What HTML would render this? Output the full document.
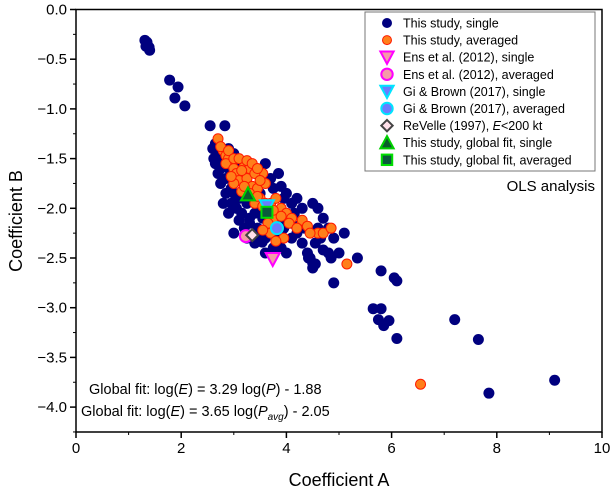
<!DOCTYPE html>
<html><head><meta charset="utf-8"><style>
body{margin:0;background:#fff;}
svg{display:block;font-family:"Liberation Sans",Arial,sans-serif;}
</style></head><body>
<svg id="chart" width="612" height="495" viewBox="0 0 612 495"></svg>
<script>
const singleA=[1.31,1.35,1.39,1.33,1.40,1.78,1.94,1.88,2.07,2.55,2.83,
2.65,2.70,2.65,2.75,2.80,2.90,3.00,2.85,2.95,3.05,3.10,2.80,2.90,3.15,3.30,3.20,3.50,3.45,3.60,3.40,3.54,
3.60,3.70,3.90,4.00,4.10,4.30,4.50,4.60,4.70,4.80,4.90,4.55,4.30,4.10,4.00,3.90,4.40,4.45,4.50,4.42,4.50,4.55,
4.90,5.00,5.35,5.80,6.05,6.10,5.65,5.80,5.75,5.85,5.95,6.10,7.20,7.65,7.85,9.10,
3.30,3.50,3.70,3.90,4.10,3.00,3.25,3.75,3.60,5.10,4.85,
2.60,2.62,2.70,2.75,2.85,2.95,3.05,3.10,3.25,3.40,3.55,3.65,3.80,3.95,4.20,4.35,4.60,4.65,3.85,3.75,3.95,4.20,4.15,3.10,3.20,2.90,3.00,3.30,3.45,4.70,4.80];
const singleB=[-0.31,-0.33,-0.38,-0.37,-0.41,-0.71,-0.78,-0.89,-0.97,-1.17,-1.17,
-1.35,-1.45,-1.55,-1.60,-1.50,-1.40,-1.45,-1.70,-1.80,-1.65,-1.90,-1.95,-2.05,-2.05,-2.10,-2.20,-2.00,-2.20,-2.30,-2.35,-2.34,
-1.55,-1.70,-1.78,-1.85,-1.95,-2.00,-1.95,-2.00,-2.10,-2.20,-2.30,-2.35,-2.35,-2.30,-2.45,-2.40,-2.45,-2.50,-2.55,-2.50,-2.60,-2.56,
-2.75,-2.45,-2.50,-2.63,-2.70,-2.73,-3.01,-3.01,-3.12,-3.18,-3.13,-3.31,-3.12,-3.32,-3.86,-3.73,
-1.80,-1.85,-2.10,-2.15,-2.15,-2.25,-2.30,-2.40,-2.45,-2.25,-2.50,
-1.40,-1.50,-1.65,-1.75,-1.85,-1.95,-2.00,-2.12,-1.95,-2.05,-2.10,-2.20,-2.25,-2.20,-2.25,-2.20,-2.20,-2.30,-1.65,-1.80,-1.90,-1.90,-2.05,-1.55,-1.70,-1.60,-1.85,-2.15,-2.30,-2.42,-2.45];
const avgA=[2.70,2.80,2.85,2.90,2.95,2.85,3.00,3.05,3.10,3.20,3.30,3.25,3.35,3.45,3.55,3.50,3.60,3.40,3.70,3.80,3.90,4.00,4.10,4.30,4.40,3.75,3.85,3.70,3.95,4.60,4.70,4.85,3.80,3.60,3.15,3.00,3.40,5.15,6.55,
2.75,2.90,3.00,3.10,3.15,3.25,3.35,3.45,3.50,3.30,3.45,3.55,3.75,3.90,4.05,3.65,3.55,4.20,4.45,3.20,2.95];
const avgB=[-1.30,-1.42,-1.47,-1.50,-1.55,-1.55,-1.60,-1.65,-1.72,-1.58,-1.60,-1.70,-1.78,-1.80,-1.65,-1.90,-1.95,-1.95,-1.95,-1.90,-2.00,-2.05,-2.10,-2.12,-2.18,-2.10,-2.20,-2.25,-2.30,-2.25,-2.25,-2.20,-2.33,-1.75,-1.83,-1.75,-1.65,-2.56,-3.77,
-1.38,-1.42,-1.50,-1.50,-1.62,-1.52,-1.55,-1.60,-1.72,-1.85,-1.88,-1.98,-2.02,-2.08,-2.15,-2.15,-2.22,-2.20,-2.25,-1.78,-1.68];
const specialNames=["ens-single","ens-averaged","gi-single","gi-averaged","revelle","global-fit-single","global-fit-averaged"];
const specialA=[3.74,3.23,3.63,3.82,3.35,3.27,3.63];
const specialB=[-2.51,-2.28,-1.98,-2.20,-2.27,-1.86,-2.04];
const xTicks=[0,2,4,6,8,10];
const yTicks=[0,-0.5,-1,-1.5,-2,-2.5,-3,-3.5,-4];
const yTickLabels=["0.0","−0.5","−1.0","−1.5","−2.0","−2.5","−3.0","−3.5","−4.0"];

const L=76,R=602,T=9.5,B=432;
const xS=a=>L+(a-0)/10*(R-L);
const yS=b=>T+(0-b)*99.4;
const svg=document.getElementById('chart');
const NS='http://www.w3.org/2000/svg';
function mk(tag,attrs,parent){const e=document.createElementNS(NS,tag);for(const k in attrs)e.setAttribute(k,attrs[k]);(parent||svg).appendChild(e);return e;}

const frame=mk('rect',{x:L,y:T,width:R-L,height:B-T,fill:'none',stroke:'#000','stroke-width':1.5});


xTicks.forEach((v,i)=>{
  const x=xS(v);
  const t=mk('line',{x1:x,y1:B,x2:x,y2:B+6,stroke:'#000','stroke-width':1.5});
  
  
  if(i<xTicks.length-1){const m=mk('line',{x1:xS(v+1),y1:B,x2:xS(v+1),y2:B+3,stroke:'#000','stroke-width':1});
  
  }
  const l=mk('text',{x:x,y:B+21,'font-size':15,'text-anchor':'middle',fill:'#000'});l.textContent=v;
  
  
});
yTicks.forEach((v,i)=>{
  const y=yS(v);
  const t=mk('line',{x1:L-6,y1:y,x2:L,y2:y,stroke:'#000','stroke-width':1.5});
  
  
  const m=mk('line',{x1:L-3,y1:yS(v-0.25),x2:L,y2:yS(v-0.25),stroke:'#000','stroke-width':1});
  
  
  const l=mk('text',{x:L-9,y:y+5,'font-size':15,'text-anchor':'end',fill:'#000'});l.textContent=yTickLabels[i];
  
  
});
const xt=mk('text',{x:339,y:486,'font-size':18,'text-anchor':'middle'});xt.textContent='Coefficient A';


const yt=mk('text',{x:22,y:221,'font-size':18,'text-anchor':'middle',transform:'rotate(-90 22 221)'});yt.textContent='Coefficient B';



const g=mk('g',{});


singleA.forEach((a,i)=>{const c=mk('circle',{cx:xS(a),cy:yS(singleB[i]),r:5.5,fill:'#00007f'},g);

});
avgA.forEach((a,i)=>{const c=mk('circle',{cx:xS(a),cy:yS(avgB[i]),r:5,fill:'#ff7f1a',stroke:'#ff1a00','stroke-width':1},g);

});

function marker(kind,x,y,parent,s){
  s=s||1;
  if(kind==0) return mk('polygon',{points:`${x-7*s},${y-6*s} ${x+7*s},${y-6*s} ${x},${y+7*s}`,fill:'#f59aa8',stroke:'#ff00ff','stroke-width':2},parent);
  if(kind==1) return mk('circle',{cx:x,cy:y,r:6*s,fill:'#f59aa8',stroke:'#ff00ff','stroke-width':2},parent);
  if(kind==2) return mk('polygon',{points:`${x-7*s},${y-6*s} ${x+7*s},${y-6*s} ${x},${y+7*s}`,fill:'#6a7cff',stroke:'#00e5ff','stroke-width':2},parent);
  if(kind==3) return mk('circle',{cx:x,cy:y,r:6*s,fill:'#6a7cff',stroke:'#00e5ff','stroke-width':2},parent);
  if(kind==4) return mk('polygon',{points:`${x},${y-6*s} ${x+6*s},${y} ${x},${y+6*s} ${x-6*s},${y}`,fill:'#ffe0ea',stroke:'#444','stroke-width':2},parent);
  if(kind==5) return mk('polygon',{points:`${x},${y-7*s} ${x+7*s},${y+6*s} ${x-7*s},${y+6*s}`,fill:'#0b5a2c',stroke:'#00d000','stroke-width':2},parent);
  if(kind==6) return mk('rect',{x:x-5.5*s,y:y-5.5*s,width:11*s,height:11*s,fill:'#0b5a3c',stroke:'#00e000','stroke-width':2},parent);
}
const order=[1,4,2,3,0,5,6];
order.forEach(i=>{const m=marker(i,xS(specialA[i]),yS(specialB[i]),g);

});

const lg=mk('g',{});


mk('rect',{x:365,y:12,width:230,height:159,fill:'#fff',stroke:'#777','stroke-width':1},lg);
const labels=["This study, single","This study, averaged","Ens et al. (2012), single","Ens et al. (2012), averaged","Gi & Brown (2017), single","Gi & Brown (2017), averaged","ReVelle (1997), <i>E</i>&lt;200 kt","This study, global fit, single","This study, global fit, averaged"];
labels.forEach((t,i)=>{
  const y=23+i*17.1;
  const e=mk('g',{},lg);
  
  
  if(i==0) mk('circle',{cx:387,cy:y,r:5,fill:'#00007f'},e);
  else if(i==1) mk('circle',{cx:387,cy:y,r:4.5,fill:'#ff7f1a',stroke:'#ff1a00'},e);
  else marker(i-2,387,y,e,0.95);
  const tx=mk('text',{x:403,y:y+4.5,'font-size':12.5},e);
  tx.innerHTML=t.replace('<i>E</i>','<tspan font-style="italic">E</tspan>');
});
const ols=mk('text',{x:595,y:191,'font-size':15,'text-anchor':'end'});ols.textContent='OLS analysis';


const f1=mk('text',{x:89,y:394,'font-size':14.5});
f1.innerHTML='Global fit: log(<tspan font-style="italic">E</tspan>) = 3.29 log(<tspan font-style="italic">P</tspan>) - 1.88';


const f2=mk('text',{x:81,y:416,'font-size':14.5});
f2.innerHTML='Global fit: log(<tspan font-style="italic">E</tspan>) = 3.65 log(<tspan font-style="italic">P</tspan><tspan font-style="italic" font-size="10" dy="4">avg</tspan><tspan dy="-4">) - 2.05</tspan>';


</script>
</body></html>
